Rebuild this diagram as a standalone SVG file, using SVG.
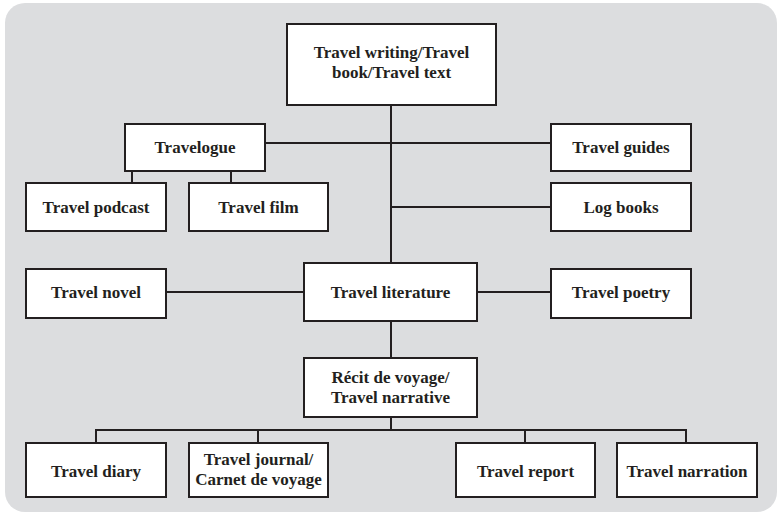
<svg xmlns="http://www.w3.org/2000/svg" width="779" height="514" viewBox="0 0 779 514">
<style>
.bg{fill:#dcdddf;}
.box{fill:#ffffff;stroke:#231f20;stroke-width:2;}
.t{font-family:'Liberation Serif','DejaVu Serif',serif;font-weight:700;font-size:17px;fill:#231f20;text-anchor:middle;}
.c{stroke:#231f20;stroke-width:2;fill:none;}
</style>
<rect class="bg" x="5" y="3" width="772" height="509" rx="20" ry="20"/>
<g id="connectors">
<line class="c" x1="391" y1="105" x2="391" y2="263"/>
<line class="c" x1="265" y1="143" x2="551" y2="143"/>
<line class="c" x1="132" y1="171" x2="132" y2="183"/>
<line class="c" x1="231" y1="171" x2="231" y2="183"/>
<line class="c" x1="391" y1="207" x2="551" y2="207"/>
<line class="c" x1="166" y1="292" x2="304" y2="292"/>
<line class="c" x1="477" y1="292" x2="551" y2="292"/>
<line class="c" x1="391" y1="321" x2="391" y2="358"/>
<line class="c" x1="391" y1="417" x2="391" y2="430"/>
<polyline class="c" points="96,443 96,430 686,430 686,443"/>
<line class="c" x1="258" y1="430" x2="258" y2="443"/>
<line class="c" x1="525" y1="430" x2="525" y2="443"/>
</g>
<g id="travel-writing">
<rect class="box" x="287" y="24" width="209" height="81"/>
<text class="t" x="391.5" y="58">Travel writing/Travel</text>
<text class="t" x="391.5" y="78">book/Travel text</text>
</g>
<g id="travelogue">
<rect class="box" x="125" y="124" width="140" height="47"/>
<text class="t" x="195" y="153">Travelogue</text>
</g>
<g id="travel-guides">
<rect class="box" x="551" y="124" width="140" height="47"/>
<text class="t" x="621" y="153">Travel guides</text>
</g>
<g id="travel-podcast">
<rect class="box" x="26" y="183" width="140" height="48"/>
<text class="t" x="96" y="213">Travel podcast</text>
</g>
<g id="travel-film">
<rect class="box" x="189" y="183" width="139" height="48"/>
<text class="t" x="258.5" y="213">Travel film</text>
</g>
<g id="log-books">
<rect class="box" x="551" y="183" width="140" height="48"/>
<text class="t" x="621" y="213">Log books</text>
</g>
<g id="travel-novel">
<rect class="box" x="26" y="269" width="140" height="49"/>
<text class="t" x="96" y="298">Travel novel</text>
</g>
<g id="travel-literature">
<rect class="box" x="304" y="263" width="173" height="58"/>
<text class="t" x="390.5" y="298">Travel literature</text>
</g>
<g id="travel-poetry">
<rect class="box" x="551" y="269" width="140" height="49"/>
<text class="t" x="621" y="298">Travel poetry</text>
</g>
<g id="recit-de-voyage">
<rect class="box" x="304" y="358" width="173" height="59"/>
<text class="t" x="390.5" y="383">Récit de voyage/</text>
<text class="t" x="390.5" y="403">Travel narrative</text>
</g>
<g id="travel-diary">
<rect class="box" x="26" y="443" width="140" height="54"/>
<text class="t" x="96" y="477">Travel diary</text>
</g>
<g id="travel-journal">
<rect class="box" x="189" y="443" width="139" height="54"/>
<text class="t" x="258.5" y="465">Travel journal/</text>
<text class="t" x="258.5" y="485">Carnet de voyage</text>
</g>
<g id="travel-report">
<rect class="box" x="456" y="443" width="139" height="54"/>
<text class="t" x="525.5" y="477">Travel report</text>
</g>
<g id="travel-narration">
<rect class="box" x="617" y="443" width="140" height="54"/>
<text class="t" x="687" y="477">Travel narration</text>
</g>
</svg>
